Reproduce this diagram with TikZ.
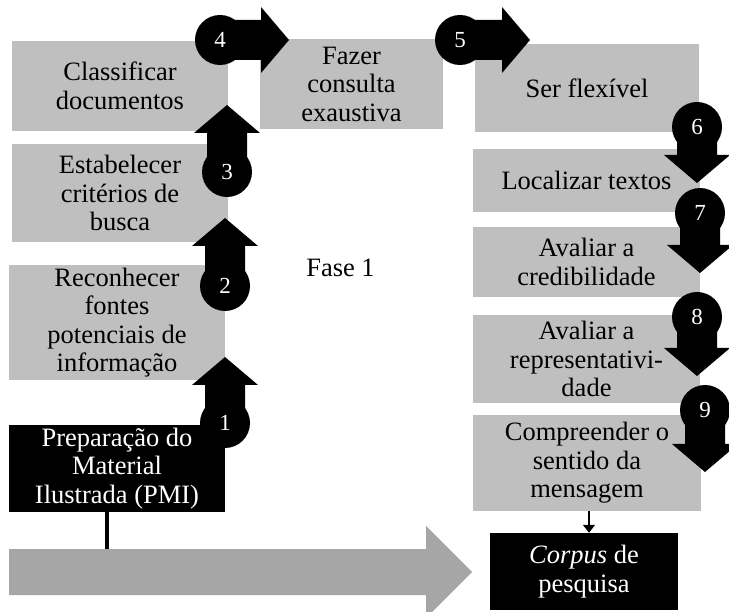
\documentclass[tikz,border=0pt]{standalone}
\usepackage{fontspec}
\setmainfont{Liberation Serif}
\usetikzlibrary{arrows.meta}
\definecolor{boxgray}{RGB}{191,191,191}
\definecolor{bandgray}{RGB}{166,166,166}

% numbered step arrow: circle with a block arrow leaving it
% #1 node name, #2 x, #3 y, #4 direction angle, #5 length to tip, #6 number
\newcommand\numarrow[6]{%
  \fill[black] (#2,#3) circle[radius=25pt];
  \fill[black, shift={(#2,#3)}, rotate=#4]
    (0,-20) -- (#5-28,-20) -- (#5-28,-33) -- (#5,0) -- (#5-28,33) -- (#5-28,20) -- (0,20) -- cycle;
  \node[numlabel] (#1) at (#2,#3) {#6};
}

\begin{document}
\begin{tikzpicture}[x=1pt, y=-1pt,
  boxtext/.style={align=center, inner sep=0pt, font=\fontsize{26.5}{28.5}\selectfont},
  graybox/.style={boxtext, fill=boxgray, text=black},
  darkbox/.style={boxtext, fill=black, text=white},
  numlabel/.style={text=white, inner sep=0pt, font=\fontsize{23}{23}\selectfont},
]
\useasboundingbox (0,0) rectangle (729,612);
\clip (0,0) rectangle (729,612);

% left column
\node[graybox, minimum width=216pt, minimum height=90pt]  (cls) at (120,86)    {Classificar\\documentos};
\node[graybox, minimum width=216pt, minimum height=98pt]  (est) at (120,193)   {Estabelecer\\critérios de\\busca};
\node[graybox, minimum width=216pt, minimum height=115pt] (rec) at (117,322.5) {Reconhecer\\fontes\\potenciais de\\informação};
\node[darkbox, minimum width=216pt, minimum height=87pt]  (pmi) at (117,468.5) {Preparação do\\Material\\Ilustrada (PMI)};

% top middle
\node[graybox, minimum width=183pt, minimum height=90pt]  (faz) at (351.5,84)  {Fazer\\consulta\\exaustiva};

% right column
\node[graybox, minimum width=224pt, minimum height=88pt]  (ser)  at (587,88)    {Ser flexível};
\node[graybox, minimum width=227pt, minimum height=63pt]  (loc)  at (586.5,180.5) {Localizar textos};
\node[graybox, minimum width=227pt, minimum height=70pt]  (cred) at (586.5,262) {Avaliar a\\credibilidade};
\node[graybox, minimum width=227pt, minimum height=88pt]  (rep)  at (586.5,359) {Avaliar a\\representativi-\\dade};
\node[graybox, minimum width=228pt, minimum height=96pt]  (comp) at (587,463)   {Compreender o\\sentido da\\mensagem};
\node[darkbox, minimum width=188pt, minimum height=77pt]  (corp) at (584,571.5) {\textit{Corpus} de\\pesquisa};

% phase label
\node[boxtext, anchor=base] (fase) at (340.5,277) {Fase 1};

% broad phase arrow along the bottom
\fill[bandgray] (9,549) -- (426,549) -- (426,526) -- (472,572) -- (426,618) -- (426,595) -- (9,595) -- cycle;
\coordinate (bandtop) at (107,549);
\draw[line width=4.5pt] (pmi.south -| bandtop) -- (bandtop);

% link into the corpus
\draw[line width=1.3pt, -{Triangle[width=12pt,length=8pt]}] (comp.south -| 589,0) -- (corp.north -| 589,0);

% numbered steps
\numarrow{n1}{225}{423}{90}{66}{1}
\numarrow{n2}{225}{286}{90}{68}{2}
\numarrow{n3}{227}{172}{90}{67}{3}
\numarrow{n4}{220}{40}{0}{69}{4}
\numarrow{n5}{460}{40}{0}{70}{5}
\numarrow{n6}{697}{127}{-90}{56}{6}
\numarrow{n7}{700}{213}{-90}{60}{7}
\numarrow{n8}{697}{317}{-90}{59}{8}
\numarrow{n9}{705}{410}{-90}{62}{9}
\end{tikzpicture}
\end{document}
